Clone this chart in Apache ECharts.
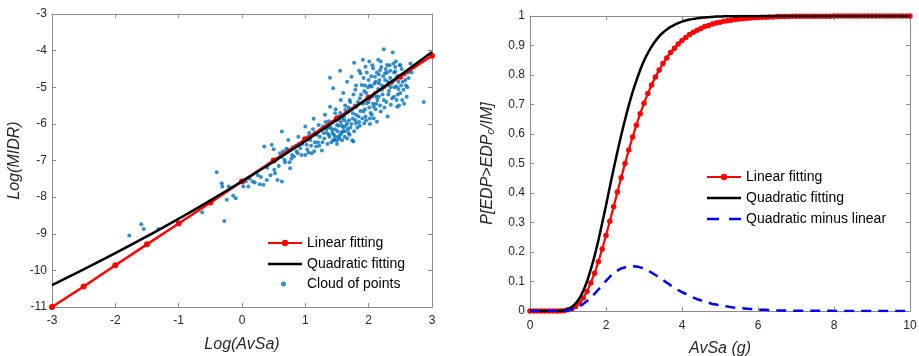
<!DOCTYPE html>
<html><head><meta charset="utf-8">
<script src="https://cdn.jsdelivr.net/npm/echarts@6/dist/echarts.min.js"></script>
<style>html,body{margin:0;padding:0;background:#fff}#c{width:919px;height:356px}</style>
</head><body><div id="c"></div>
<script>
// ---------- Left panel data ----------
const linX = [-3,-2.5,-2,-1.5,-1,-0.5,0,0.5,1,1.5,2,2.5,3];
const linY = [-11,-10.44,-9.86,-9.29,-8.72,-8.15,-7.57,-7.0,-6.42,-5.85,-5.28,-4.71,-4.14];
const quadY = [-10.40,-9.97,-9.53,-9.07,-8.59,-8.09,-7.57,-7.03,-6.47,-5.89,-5.29,-4.67,-4.04];
const cloudX = [-1.78,-1.59,-1.55,-1.32,-0.63,-0.40,-0.32,-0.31,-0.28,-0.24,-0.21,-0.14,-0.10,0.02,0.06,0.10,0.17,0.28,0.34,0.35,0.39,0.47,0.50,0.51,0.52,0.56,0.63,0.63,0.65,0.67,0.70,0.73,0.76,0.79,0.80,0.82,0.86,0.89,0.92,0.94,1.00,1.02,1.05,1.08,1.10,1.13,1.15,1.17,1.21,1.23,1.26,1.28,1.31,1.34,1.37,1.39,1.39,1.42,1.44,1.44,1.47,1.50,1.52,1.55,1.56,1.58,1.59,1.60,1.63,1.66,1.66,1.68,1.71,1.73,1.75,1.76,1.77,1.79,1.80,1.81,1.84,1.86,1.87,1.89,1.91,1.92,1.93,1.95,1.96,1.97,2.00,2.01,2.02,2.05,2.07,2.08,2.10,2.12,2.13,2.15,2.16,2.18,2.19,2.21,2.24,2.24,2.26,2.29,2.30,2.31,2.34,2.35,2.38,2.39,2.40,2.42,2.44,2.45,2.47,2.49,2.50,2.53,2.55,2.58,2.60,2.63,2.66,2.72,2.75,2.87,
1.40,1.43,1.45,1.47,1.49,1.51,1.53,1.54,1.56,1.57,1.60,1.61,1.62,1.64,1.65,1.67,1.69,1.70,1.72,1.73,1.75,1.77,1.78,1.80,1.82,1.83,1.85,1.87,1.88,1.90,1.91,1.93,1.94,1.96,1.98,1.99,2.01,2.03,2.04,2.06,2.07,2.09,2.10,2.11,2.13,2.14,2.15,2.17,2.18,2.20,2.22,2.23,2.25,2.27,2.28,2.30,2.32,2.33,2.36,2.37,2.40,2.41,2.43,2.46,2.48,2.51,2.52,2.56,2.57,2.61,2.65,2.68,2.70,
1.20,1.25,1.30,1.32,1.35,1.36,1.38,1.41,1.46,1.48,1.50,1.55,1.58,1.63,1.66,1.74,
0.95,0.98,1.03,1.06,1.09,1.12,1.14,1.18,1.22,0.30,0.42,0.45,0.55,0.58,0.60,0.68,0.72,0.78,0.85,0.12,0.20,0.25,
1.85,1.92,1.97,2.02,2.06,2.11,2.16,2.19,2.21,2.26,2.29,2.34,2.38,2.42,2.45,2.47,2.50,2.54,2.59,2.62,1.94,2.00,2.05,2.12,2.16,2.25,2.31,2.35,2.44,2.48,1.76,1.80,1.70,1.68,1.62,1.58,1.52,1.47,1.43,1.37,1.33,1.29,1.27,1.50,1.55,1.62,1.71,1.79,1.86,1.95,2.02,2.08,1.15,1.05,0.88,0.75,0.62,0.40,0.90,1.00];
const cloudY = [-9.05,-8.74,-8.87,-8.87,-8.41,-7.32,-7.62,-7.71,-8.65,-8.07,-7.71,-7.96,-8.03,-7.71,-7.57,-7.71,-7.57,-7.65,-7.66,-6.62,-7.53,-6.57,-6.69,-7.25,-7.35,-7.53,-6.21,-7.57,-6.75,-6.98,-6.68,-6.44,-7.21,-6.85,-6.64,-6.89,-6.75,-6.35,-6.66,-6.85,-6.07,-6.57,-6.78,-6.44,-6.80,-5.86,-6.25,-6.62,-6.03,-6.35,-6.73,-6.07,-5.75,-6.25,-5.93,-4.74,-5.53,-6.16,-5.03,-6.44,-5.71,-6.03,-6.35,-4.55,-5.35,-5.85,-6.21,-5.16,-5.62,-4.85,-5.98,-6.25,-5.40,-4.71,-5.71,-6.48,-4.33,-5.07,-5.98,-5.53,-5.80,-5.30,-4.62,-4.94,-4.25,-5.66,-5.98,-4.44,-5.16,-5.44,-4.80,-4.30,-5.85,-4.98,-4.48,-5.53,-4.71,-5.26,-5.94,-4.25,-4.89,-4.53,-5.66,-5.07,-3.96,-5.35,-4.62,-4.39,-5.80,-4.94,-4.75,-5.48,-4.05,-4.35,-5.26,-4.57,-4.98,-5.53,-4.85,-4.39,-5.16,-5.35,-5.07,-4.80,-5.26,-4.75,-4.35,-4.44,-4.39,-5.40,
-6.10,-5.95,-6.30,-6.15,-5.90,-6.20,-6.05,-6.40,-5.95,-6.25,-6.10,-5.80,-6.35,-6.05,-5.70,-6.15,-5.90,-6.30,-5.60,-6.00,-5.85,-6.20,-5.50,-5.75,-6.10,-5.40,-5.95,-5.65,-5.20,-5.85,-5.45,-5.10,-5.60,-5.90,-5.30,-5.00,-5.55,-5.70,-4.70,-5.25,-5.45,-4.90,-5.15,-5.60,-4.60,-5.35,-5.05,-4.80,-5.50,-4.45,-5.20,-4.70,-5.00,-4.50,-5.40,-4.85,-5.10,-4.40,-4.90,-5.30,-4.60,-5.00,-4.30,-5.20,-4.70,-4.95,-4.50,-5.45,-4.65,-5.00,-4.55,-4.60,-4.45,
-6.50,-6.15,-6.40,-5.95,-6.55,-6.10,-6.35,-6.50,-6.45,-5.60,-6.45,-5.70,-6.45,-5.50,-6.40,-6.45,
-6.55,-6.40,-6.70,-6.25,-6.60,-6.15,-6.75,-6.30,-6.60,-7.45,-7.10,-7.40,-6.95,-7.15,-6.80,-7.05,-6.70,-6.95,-6.60,-7.50,-7.60,-7.40,
-4.55,-4.75,-4.60,-4.95,-4.40,-4.85,-4.65,-4.30,-4.95,-4.80,-4.60,-4.55,-4.85,-4.45,-4.70,-5.05,-4.40,-4.85,-4.95,-4.60,-4.95,-5.40,-5.75,-5.45,-5.25,-5.55,-5.20,-5.00,-5.35,-5.50,-5.20,-4.95,-5.35,-5.55,-5.90,-6.05,-5.80,-6.35,-6.25,-6.30,-6.15,-6.25,-6.50,-6.55,-6.30,-6.20,-6.10,-5.90,-6.05,-5.80,-6.00,-5.85,-6.50,-6.35,-6.80,-7.05,-6.90,-7.20,-6.55,-6.85];

// ---------- Right panel data ----------
const avsa = [0,0.1,0.2,0.3,0.4,0.5,0.6,0.7,0.8,0.9,1.0,1.1,1.2,1.3,1.4,1.5,1.6,1.7,1.8,1.9,2.0,2.1,2.2,2.3,2.4,2.5,2.6,2.7,2.8,2.9,3.0,3.1,3.2,3.3,3.4,3.5,3.6,3.7,3.8,3.9,4.0,4.1,4.2,4.3,4.4,4.5,4.6,4.7,4.8,4.9,5.0,5.1,5.2,5.3,5.4,5.5,5.6,5.7,5.8,5.9,6.0,6.1,6.2,6.3,6.4,6.5,6.6,6.7,6.8,6.9,7.0,7.1,7.2,7.3,7.4,7.5,7.6,7.7,7.8,7.9,8.0,8.1,8.2,8.3,8.4,8.5,8.6,8.7,8.8,8.9,9.0,9.1,9.2,9.3,9.4,9.5,9.6,9.7,9.8,9.9,10.0];
const probLinear = [0,0,0,0,0,0,0,0,0,0.001,0.004,0.008,0.015,0.027,0.044,0.066,0.095,0.128,0.167,0.210,0.256,0.304,0.353,0.403,0.452,0.500,0.546,0.590,0.630,0.669,0.704,0.737,0.766,0.793,0.817,0.839,0.858,0.876,0.891,0.905,0.917,0.927,0.937,0.945,0.952,0.958,0.964,0.968,0.973,0.976,0.979,0.982,0.984,0.986,0.988,0.990,0.991,0.992,0.993,0.994,0.995,0.996,0.996,0.997,0.997,0.998,0.998,0.998,0.998,0.999,0.999,0.999,0.999,0.999,0.999,0.999,0.999,0.999,0.999,0.999,1,1,1,1,1,1,1,1,1,1,1,1,1,1,1,1,1,1,1,1,1];
const probQuad = [0,0,0,0,0,0,0,0,0.001,0.002,0.006,0.014,0.026,0.043,0.068,0.100,0.141,0.187,0.240,0.298,0.358,0.420,0.481,0.540,0.596,0.648,0.697,0.742,0.781,0.817,0.848,0.874,0.896,0.915,0.931,0.944,0.954,0.963,0.970,0.976,0.981,0.985,0.988,0.990,0.992,0.994,0.995,0.996,0.997,0.998,0.998,0.999,0.999,0.999,0.999,1,1,1,1,1,1,1,1,1,1,1,1,1,1,1,1,1,1,1,1,1,1,1,1,1,1,1,1,1,1,1,1,1,1,1,1,1,1,1,1,1,1,1,1,1,1];
const probDiff = [0,0,0,0,0,0,0,0,0,0.001,0.002,0.006,0.011,0.016,0.024,0.034,0.046,0.059,0.073,0.088,0.102,0.116,0.128,0.137,0.144,0.148,0.151,0.152,0.151,0.148,0.144,0.137,0.130,0.122,0.114,0.105,0.096,0.087,0.079,0.071,0.064,0.058,0.051,0.045,0.040,0.036,0.031,0.028,0.024,0.022,0.019,0.017,0.015,0.013,0.011,0.010,0.009,0.008,0.007,0.006,0.005,0.004,0.004,0.003,0.003,0.002,0.002,0.002,0.002,0.001,0.001,0.001,0.001,0.001,0.001,0.001,0.001,0.001,0.001,0.001,0,0,0,0,0,0,0,0,0,0,0,0,0,0,0,0,0,0,0,0,0];

const FONT = "Arial, 'Liberation Sans', Helvetica, sans-serif";
const AX = '#8a8a8a';
const LBL = '#262626';
const ICON_SOLID = 'path://M0,0 L34,0 L34,2.5 L0,2.5 Z';
const ICON_DASH = 'path://M0,0 h12 v2.5 h-12 Z M22,0 h12 v2.5 h-12 Z';

function zip(a, b) { return a.map((v, i) => [v, b[i]]); }

function axisBase(extra) {
  return Object.assign({
    type: 'value',
    axisLine: { show: true, onZero: false, lineStyle: { color: AX, width: 1 } },
    axisTick: { show: true, inside: true, length: 4, lineStyle: { color: AX } },
    axisLabel: { color: LBL, fontSize: 12, fontFamily: FONT },
    splitLine: { show: false }
  }, extra);
}
function mirror(extra) {
  return Object.assign(axisBase({}), { axisLabel: { show: false } }, extra);
}

const nameStyle = { color: LBL, fontSize: 16, fontStyle: 'italic', fontFamily: FONT };
const legText = { fontSize: 14, fontFamily: FONT, color: '#000' };

const chart = echarts.init(document.getElementById('c'), null, { renderer: 'canvas' });
chart.setOption({
  animation: false,
  backgroundColor: '#fff',
  grid: [
    { left: 52, right: 487, top: 14, bottom: 49, containLabel: false, outerBoundsMode: 'none' },
    { left: 530, right: 9, top: 16, bottom: 45, containLabel: false, outerBoundsMode: 'none' }
  ],
  xAxis: [
    axisBase({ gridIndex: 0, min: -3, max: 3, interval: 1, position: 'bottom',
      axisLabel: { color: LBL, fontSize: 12, fontFamily: FONT, margin: 8 },
      name: 'Log(AvSa)', nameLocation: 'middle', nameGap: 30, nameTextStyle: nameStyle }),
    mirror({ gridIndex: 0, min: -3, max: 3, interval: 1, position: 'top' }),
    axisBase({ gridIndex: 1, min: 0, max: 10, interval: 2, position: 'bottom',
      axisLabel: { color: LBL, fontSize: 12, fontFamily: FONT, margin: 9 },
      name: 'AvSa (g)', nameLocation: 'middle', nameGap: 30, nameTextStyle: nameStyle }),
    mirror({ gridIndex: 1, min: 0, max: 10, interval: 2, position: 'top' })
  ],
  yAxis: [
    axisBase({ gridIndex: 0, min: -11, max: -3, interval: 1, position: 'left',
      axisLabel: { color: LBL, fontSize: 12, fontFamily: FONT, margin: 5 },
      name: 'Log(MIDR)', nameLocation: 'middle', nameGap: 29, nameTextStyle: nameStyle }),
    mirror({ gridIndex: 0, min: -11, max: -3, interval: 1, position: 'right' }),
    axisBase({ gridIndex: 1, min: 0, max: 1, interval: 0.1, position: 'left',
      axisLabel: { color: LBL, fontSize: 12, fontFamily: FONT, margin: 5 },
      name: '{n|P[EDP>EDP}{s|c}{n|/IM]}', nameLocation: 'middle', nameGap: 30,
      nameTextStyle: {
        color: LBL, fontFamily: FONT,
        rich: {
          n: { fontSize: 16, fontStyle: 'italic', fontFamily: FONT, color: LBL, lineHeight: 20, verticalAlign: 'top' },
          s: { fontSize: 11, fontStyle: 'italic', fontFamily: FONT, color: LBL, lineHeight: 20, verticalAlign: 'top', padding: [5, 0, 0, 0] }
        }
      } }),
    mirror({ gridIndex: 1, min: 0, max: 1, interval: 0.1, position: 'right' })
  ],
  legend: [
    { data: ['Linear fitting', { name: 'Quadratic fitting', icon: ICON_SOLID }], orient: 'vertical', left: 267, top: 236,
      itemWidth: 34, itemHeight: 8, itemGap: 7, padding: 0, textStyle: legText },
    { data: ['Cloud of points'], orient: 'vertical', left: 281, top: 277,
      itemWidth: 5, itemHeight: 5, padding: 0, icon: 'circle',
      textStyle: Object.assign({ padding: [0, 0, 0, 16] }, legText) },
    { data: ['Linear fitting ', { name: 'Quadratic fitting ', icon: ICON_SOLID }, { name: 'Quadratic minus linear', icon: ICON_DASH }],
      orient: 'vertical', left: 706, top: 170,
      itemWidth: 34, itemHeight: 8, itemGap: 7, padding: 0, textStyle: legText }
  ],
  series: [
    { name: 'Cloud of points', type: 'scatter', xAxisIndex: 0, yAxisIndex: 0,
      data: zip(cloudX, cloudY), symbol: 'circle', symbolSize: 4,
      itemStyle: { color: '#0072BD' }, z: 1 },
    { name: 'Linear fitting', type: 'line', xAxisIndex: 0, yAxisIndex: 0,
      data: zip(linX, linY), symbol: 'circle', symbolSize: 6, showSymbol: true,
      lineStyle: { color: '#ff0000', width: 2.5 }, itemStyle: { color: '#ff0000' }, z: 2 },
    { name: 'Quadratic fitting', type: 'line', xAxisIndex: 0, yAxisIndex: 0,
      data: zip(linX, quadY), smooth: true, symbol: 'none',
      lineStyle: { color: '#000000', width: 2.5 }, itemStyle: { color: '#000000' }, z: 3 },

    { name: 'Linear fitting ', type: 'line', xAxisIndex: 2, yAxisIndex: 2,
      data: zip(avsa, probLinear), symbol: 'circle', symbolSize: 5.5, showSymbol: true,
      lineStyle: { color: '#ff0000', width: 2.2 }, itemStyle: { color: '#ff0000' }, z: 2 },
    { name: 'Quadratic fitting ', type: 'line', xAxisIndex: 2, yAxisIndex: 2,
      data: zip(avsa, probQuad), symbol: 'none', smooth: 0.3,
      lineStyle: { color: '#000000', width: 2.5 }, itemStyle: { color: '#000000' }, z: 3 },
    { name: 'Quadratic minus linear', type: 'line', xAxisIndex: 2, yAxisIndex: 2,
      data: zip(avsa, probDiff), symbol: 'none', smooth: 0.3,
      lineStyle: { color: '#0000ff', width: 2.5, type: [10, 7] }, itemStyle: { color: '#0000ff' }, z: 3 }
  ]
});
</script>
</body></html>
